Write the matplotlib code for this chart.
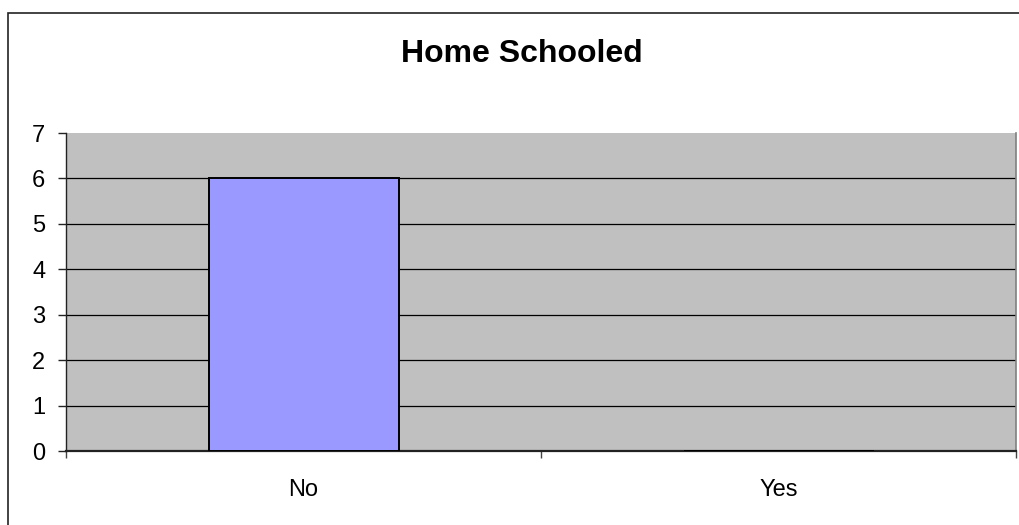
import matplotlib
matplotlib.use("Agg")
import matplotlib.pyplot as plt
from matplotlib.patches import Rectangle

categories = ["No", "Yes"]
counts = [6, 0]
y_ticks = [0, 1, 2, 3, 4, 5, 6, 7]
title = "Home Schooled"

W, H = 1019, 525
fig = plt.figure(figsize=(W / 100, H / 100), dpi=100)
fig.patch.set_facecolor("white")
plt.rcParams["font.family"] = ["Liberation Sans", "DejaVu Sans"]

# outer chart frame (runs off the right and bottom edges)
frame = Rectangle((7.5 / W, -0.2), 1.3, 1.2 - 12.5 / H,
                  transform=fig.transFigure, fill=False,
                  edgecolor="#222222", linewidth=1.2, zorder=0)
fig.patches.append(frame)

left, right, top, bottom = 66, 1016, 133, 451
ax = fig.add_axes([left / W, 1 - bottom / H, (right - left) / W, (bottom - top) / H])
ax.set_facecolor("#C0C0C0")

x = list(range(len(categories)))
ax.bar(x, counts, width=0.4, color="#9999FF", edgecolor="black",
       linewidth=1.4, zorder=3)

ax.set_xlim(-0.5, len(categories) - 0.5)
ax.set_ylim(y_ticks[0], y_ticks[-1])

# y axis
ax.set_yticks(y_ticks)
ax.set_yticklabels([str(v) for v in y_ticks], fontsize=17)
ax.tick_params(axis="y", direction="out", length=6, width=1, color="#222222", pad=9)

# horizontal gridlines
for v in y_ticks[1:-1]:
    ax.axhline(v, color="black", linewidth=0.9, zorder=2)

# x axis: boundary ticks as major, category labels as minor
ax.set_xticks([i - 0.5 for i in range(len(categories) + 1)])
ax.set_xticklabels([])
ax.tick_params(axis="x", which="major", direction="out", length=5, width=1, color="#444444")
ax.set_xticks(x, minor=True)
ax.set_xticklabels(categories, minor=True, fontsize=17)
ax.tick_params(axis="x", which="minor", length=0, pad=20)

ax.spines["left"].set_color("#222222")
ax.spines["left"].set_linewidth(1.0)
ax.spines["bottom"].set_color("#222222")
ax.spines["bottom"].set_linewidth(1.6)
ax.spines["right"].set_color("#808080")
ax.spines["right"].set_linewidth(1.2)
ax.spines["top"].set_visible(False)

fig.text(522 / W, 1 - 54 / H, title, ha="center", va="center",
         fontsize=23, fontweight="bold")

fig.savefig("out.png", dpi=100)
